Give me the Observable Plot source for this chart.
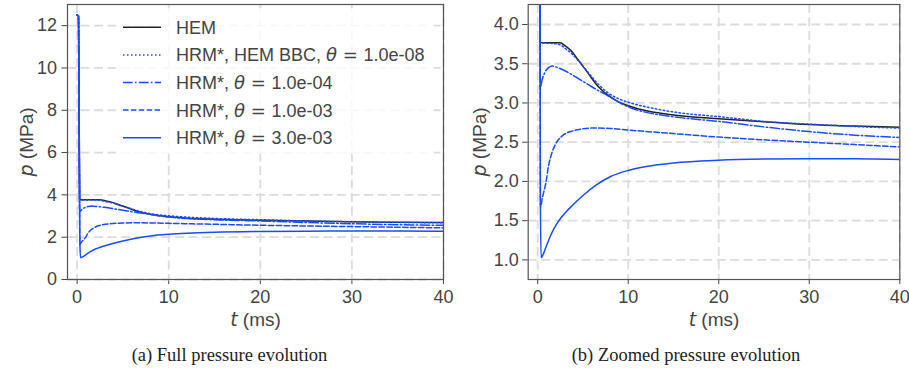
<!DOCTYPE html>
<html><head><meta charset="utf-8">
<script src="https://cdn.jsdelivr.net/npm/d3@7"></script>
<script src="https://cdn.jsdelivr.net/npm/@observablehq/plot@0.6"></script>
<style>
body{margin:0;background:#fff;}
#root{position:relative;width:909px;height:374px;overflow:hidden;font-family:"Liberation Sans",Arial,sans-serif;}
.panel{position:absolute;top:0;}
.cap{position:absolute;top:346px;font:18.5px/18px "Liberation Serif","Times New Roman",serif;color:#222;white-space:nowrap;transform:translateX(-50%);}
</style></head><body><div id="root"></div>
<script>
// ---- data ----
const seriesNames = ["HEM", "HRM*, HEM BBC, θ = 1.0e-08", "HRM*, θ = 1.0e-04", "HRM*, θ = 1.0e-03", "HRM*, θ = 3.0e-03"];
const hemT = [0, 0.15, 0.28, 1.5, 2.5, 3.0, 3.65, 4.4, 5.5, 6.6, 8.0, 9.0, 10, 12, 13.6, 16, 20, 25, 30, 35, 40];
const hemP = [12.5, 12.45, 3.77, 3.768, 3.766, 3.73, 3.67, 3.56, 3.39, 3.22, 3.08, 3.01, 2.965, 2.90, 2.87, 2.835, 2.80, 2.76, 2.725, 2.705, 2.69];
const bbcT = [0, 0.15, 0.28, 1.5, 2.5, 3.2, 3.65, 4.4, 5.5, 6.6, 8.0, 9.0, 10, 13, 16, 20, 25, 30, 35, 40];
const bbcP = [12.5, 12.45, 3.765, 3.76, 3.74, 3.68, 3.64, 3.55, 3.40, 3.25, 3.11, 3.05, 3.01, 2.925, 2.87, 2.826, 2.765, 2.73, 2.70, 2.68];
const th4T = [0, 0.15, 0.28, 0.5, 0.8, 1.2, 1.6, 2.2, 3.0, 3.8, 4.5, 5.5, 6.5, 7.5, 8.5, 10, 12, 14, 16, 20, 25, 30, 35, 40];
const th4P = [12.5, 12.45, 3.2, 3.3, 3.39, 3.45, 3.47, 3.45, 3.41, 3.36, 3.31, 3.24, 3.17, 3.11, 3.04, 2.95, 2.88, 2.84, 2.81, 2.765, 2.695, 2.635, 2.59, 2.56];
const th3T = [0, 0.15, 0.3, 0.5, 0.7, 0.9, 1.2, 1.5, 2.0, 2.7, 3.9, 5.0, 6.1, 8, 10, 15, 20, 25, 30, 35, 40];
const th3P = [12.5, 12.45, 1.67, 1.78, 1.88, 1.98, 2.2, 2.34, 2.48, 2.58, 2.645, 2.67, 2.68, 2.675, 2.655, 2.61, 2.565, 2.53, 2.50, 2.47, 2.44];
const th33T = [0, 0.15, 0.3, 0.38, 0.6, 1.0, 1.5, 2.0, 2.6, 3.2, 3.8, 5.0, 6.4, 8, 10, 12, 15, 20, 25, 30, 35, 40];
const th33P = [12.5, 12.45, 1.7, 1.03, 1.07, 1.19, 1.33, 1.44, 1.54, 1.62, 1.69, 1.82, 1.95, 2.06, 2.14, 2.19, 2.235, 2.27, 2.285, 2.29, 2.288, 2.28];
const seriesT = [hemT, bbcT, th4T, th3T, th33T];
const seriesP = [hemP, bbcP, th4P, th3P, th33P];
const xTicks = [0, 10, 20, 30, 40];
const yTicksFull = [0, 2, 4, 6, 8, 10, 12];
const yTicksZoom = [1.0, 1.5, 2.0, 2.5, 3.0, 3.5, 4.0];
const captions = ["(a) Full pressure evolution", "(b) Zoomed pressure evolution"];

// ---- styles ----
const BLUE = "#1a4cff";
const styles = [
  {stroke: "#222", dash: null},
  {stroke: BLUE, dash: "1.5,2.5"},
  {stroke: BLUE, dash: "9.6,2.4,1.5,2.4"},
  {stroke: BLUE, dash: "5.5,2.4"},
  {stroke: BLUE, dash: null}
];

const rows = [];
seriesNames.forEach((name, i) => seriesT[i].forEach((t, j) => rows.push({series: name, t, p: seriesP[i][j]})));

const gridStyle = {stroke: "#dcdcdc", strokeOpacity: 1, strokeWidth: 1.8, strokeDasharray: "9,4.5"};

function panel({width, marginLeft, marginRight, yDomain, yTicks, yFormat, yLabelOffset, yPad}) {
  const lines = seriesNames.map((name, i) => Plot.line(rows.filter(d => d.series === name), {
    x: "t", y: "p", stroke: styles[i].stroke, strokeWidth: 1.5,
    strokeDasharray: styles[i].dash, curve: "monotone-x", clip: true
  }));
  const svg = Plot.plot({
    width, height: 335, marginTop: 4, marginBottom: 56, marginLeft, marginRight,
    style: {fontFamily: "'Liberation Sans', Arial, sans-serif", fontSize: "18px", color: "#444", background: "transparent", overflow: "visible"},
    x: {domain: [-1.05, 40], ticks: xTicks, tickSize: 5, tickPadding: 6, label: "t (ms)", labelAnchor: "center", labelOffset: 46},
    y: {domain: yDomain, ticks: yTicks, tickFormat: yFormat, tickSize: 5.5, tickPadding: yPad, label: "p (MPa)", labelAnchor: "center", labelOffset: yLabelOffset},
    marks: [
      Plot.gridX(xTicks, gridStyle),
      Plot.gridY(yTicks, gridStyle),
      ...lines,
      Plot.frame({stroke: "#555", strokeWidth: 1.2})
    ]
  });
  // italic math symbol in axis labels (and no arrow)
  d3.select(svg).selectAll("text").each(function() {
    const el = d3.select(this);
    const s = el.text();
    const m = s.startsWith("t (ms)") ? "t (ms)" : s.startsWith("p (MPa)") ? "p (MPa)" : null;
    if (m) {
      el.selectAll("*").remove();
      el.text(null).attr("font-size", "19px").attr("fill", "#444");
      el.append("tspan").attr("font-style", "italic").attr("font-family", "'DejaVu Sans'").text(m[0]);
      el.append("tspan").text(m.slice(1));
    }
  });
  return svg;
}

const root = document.getElementById("root");
const left = panel({width: 455, marginLeft: 67, marginRight: 12, yDomain: [0, 13.0], yTicks: yTicksFull, yFormat: d3.format("d"), yLabelOffset: 48, yPad: 5});
const right = panel({width: 454, marginLeft: 72.7, marginRight: 9.7, yDomain: [0.75, 4.255], yTicks: yTicksZoom, yFormat: d3.format(".1f"), yLabelOffset: 56, yPad: 4});
left.classList.add("panel"); left.style.left = "0px";
right.classList.add("panel"); right.style.left = "455px";
root.appendChild(left); root.appendChild(right);

// legend (inside left panel)
const lg = d3.select(left).append("g").attr("class", "legend").attr("text-anchor", "start");
lg.append("rect").attr("x", 116).attr("y", 8).attr("width", 318).attr("height", 146).attr("fill", "#fff").attr("fill-opacity", 0.8);
seriesNames.forEach((name, i) => {
  const y = 27.3 + i * 27.6;
  lg.append("line").attr("x1", 123).attr("x2", 161).attr("y1", y).attr("y2", y)
    .attr("stroke", styles[i].stroke).attr("stroke-width", 1.5).attr("stroke-dasharray", styles[i].dash);
  const t = lg.append("text").attr("x", 176).attr("y", y).attr("dy", "0.36em").attr("text-anchor", "start")
    .attr("font-size", "18px").attr("fill", "#444").attr("font-family", "'Liberation Sans', Arial, sans-serif");
  const parts = name.split("θ");
  t.append("tspan").text(parts[0]);
  if (parts.length > 1) {
    t.append("tspan").attr("font-style", "italic").attr("font-family", "'DejaVu Sans'").text("θ");
    t.append("tspan").attr("font-family", "'DejaVu Sans'").text(" = ");
    t.append("tspan").text(parts[1].replace(/^ = /, ""));
  }
});

// captions
[229.5, 686].forEach((cx, i) => {
  const d = document.createElement("div");
  d.className = "cap"; d.style.left = cx + "px"; d.textContent = captions[i];
  root.appendChild(d);
});
</script></body></html>
